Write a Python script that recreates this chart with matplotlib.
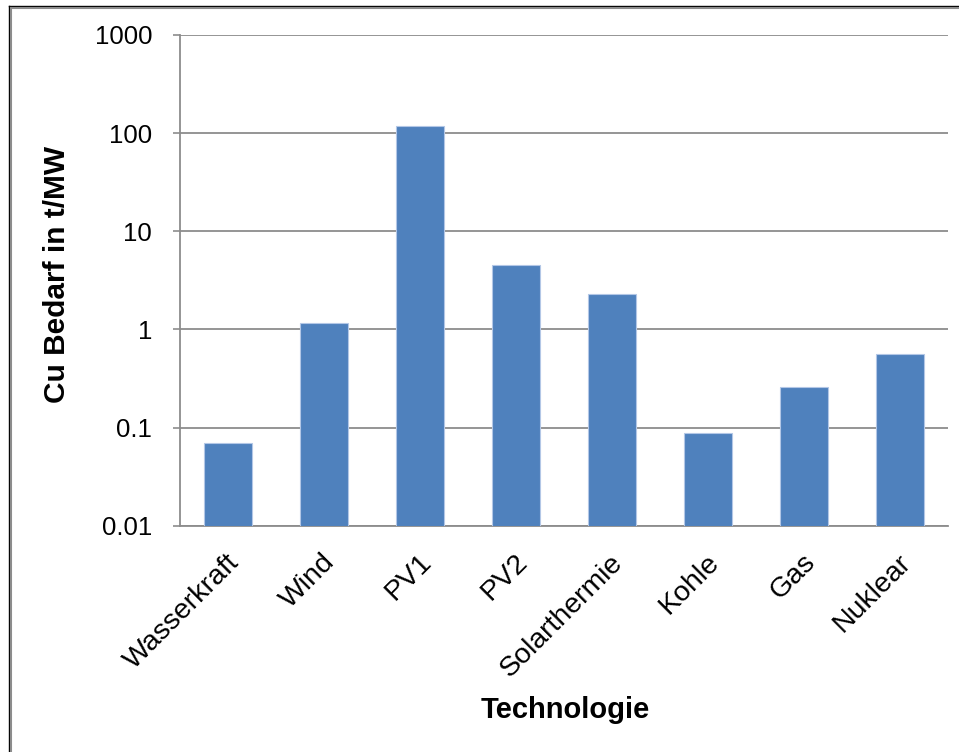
import matplotlib
matplotlib.use("Agg")
import matplotlib.pyplot as plt
import matplotlib.ticker as mticker
from matplotlib.lines import Line2D
from matplotlib.transforms import ScaledTranslation

categories = ["Wasserkraft", "Wind", "PV1", "PV2", "Solarthermie", "Kohle", "Gas", "Nuklear"]
values = [0.069, 1.17, 118, 4.55, 2.3, 0.088, 0.256, 0.567]
ytick_values = [0.01, 0.1, 1, 10, 100, 1000]
ytick_labels = ["0.01", "0.1", "1", "10", "100", "1000"]
ylabel = "Cu Bedarf in t/MW"
xlabel = "Technologie"

plt.rcParams['font.family'] = ['Liberation Sans', 'DejaVu Sans']

W, H = 959, 752
fig = plt.figure(figsize=(W / 100, H / 100), dpi=100)
ax = fig.add_axes([180 / W, 1 - 525.7 / H, (948 - 180) / W, (525.7 - 35) / H])

ax.set_yscale('log')
x = list(range(len(categories)))
ax.bar(x, values, width=0.5, color='#4F81BD', edgecolor='#B3C7E6', linewidth=0.8, zorder=3)

ax.set_ylim(0.01, 1000)
ax.set_xlim(-0.5, len(categories) - 0.5)
ax.set_yticks(ytick_values)
ax.set_yticklabels(ytick_labels)
ax.yaxis.set_minor_locator(mticker.NullLocator())
ax.yaxis.grid(True, color='#8C8C8C', linewidth=1.3, zorder=0)
ax.set_axisbelow(True)

ax.tick_params(axis='y', length=5, width=1.2, color='#8C8C8C', pad=15, labelsize=18.5)
ax.tick_params(axis='x', length=0, pad=17, labelsize=20.5)
ax.set_xticks(x)
ax.set_xticklabels(categories, rotation=45, ha='right', va='top', rotation_mode='anchor')
offset = ScaledTranslation(-2 / 100, 0, fig.dpi_scale_trans)
for lbl in ax.get_xticklabels():
    lbl.set_transform(lbl.get_transform() + offset)

for s in ['top', 'right']:
    ax.spines[s].set_visible(False)
for s in ['left', 'bottom']:
    ax.spines[s].set_color('#8C8C8C')
    ax.spines[s].set_linewidth(1.3)

ax.set_ylabel(ylabel, fontsize=21.5, fontweight='bold')
ax.yaxis.set_label_coords(71 / W, 1 - 274 / H, transform=fig.transFigure)
ax.set_xlabel(xlabel, fontsize=21, fontweight='bold')
ax.xaxis.set_label_coords(565 / W, 1 - 696 / H, transform=fig.transFigure)

# outer frame (top and left edges)
fig.add_artist(Line2D([8.5 / W, 1], [1 - 5.5 / H, 1 - 5.5 / H], transform=fig.transFigure, color='black', linewidth=1.0))
fig.add_artist(Line2D([11 / W, 1], [1 - 8 / H, 1 - 8 / H], transform=fig.transFigure, color='#8C8C8C', linewidth=1.5))
fig.add_artist(Line2D([8.5 / W, 8.5 / W], [0, 1 - 5.5 / H], transform=fig.transFigure, color='black', linewidth=1.0))
fig.add_artist(Line2D([11 / W, 11 / W], [0, 1 - 8 / H], transform=fig.transFigure, color='#8C8C8C', linewidth=1.5))

fig.savefig("out.png", dpi=100)
